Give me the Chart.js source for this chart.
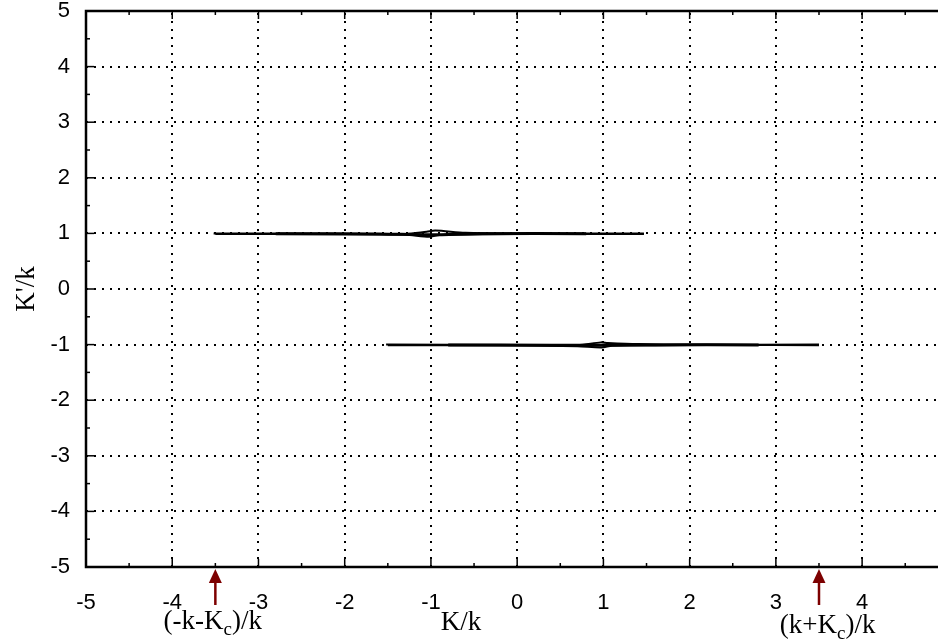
<!DOCTYPE html>
<html>
<head>
<meta charset="utf-8">
<script src="https://cdn.jsdelivr.net/npm/chart.js@4.4.1/dist/chart.umd.min.js"></script>
<style>
  html, body { margin: 0; padding: 0; background: #fff; }
  #wrap { width: 938px; height: 641px; }
</style>
</head>
<body>
<div id="wrap"><canvas id="chart" width="938" height="641"></canvas></div>
<script>
// tick values on both axes
const xTicks = [-5, -4, -3, -2, -1, 0, 1, 2, 3, 4];
const yTicks = [-5, -4, -3, -2, -1, 0, 1, 2, 3, 4, 5];

// contour traces near K'/k = +1
const upperOuter = [[-3.52, 1.0], [-2.0, 0.995], [-1.3, 0.99], [-1.05, 1.03], [-0.95, 1.05], [-0.6, 1.01], [0.0, 1.0], [1.47, 1.0]];
const upperInner = [[-3.5, 0.99], [-2.2, 0.985], [-1.3, 0.975], [-1.02, 0.94], [-0.9, 0.97], [-0.5, 0.985], [0.5, 0.99], [1.47, 0.99]];
const upperMid = [[-2.8, 0.995], [-1.6, 0.99], [-1.0, 0.975], [-0.4, 0.995], [0.8, 0.995]];

// contour traces near K'/k = -1
const lowerOuter = [[-1.52, -1.0], [0.0, -1.005], [0.7, -1.01], [0.97, -0.96], [1.05, -0.97], [1.4, -0.99], [2.0, -1.0], [3.5, -1.0]];
const lowerInner = [[-1.5, -1.01], [0.0, -1.015], [0.7, -1.03], [0.98, -1.05], [1.1, -1.02], [1.6, -1.01], [2.4, -1.005], [3.5, -1.01]];
const lowerMid = [[-0.8, -1.005], [0.4, -1.01], [1.0, -1.01], [1.6, -1.005], [2.8, -1.005]];

// arrows marking (-k-Kc)/k and (k+Kc)/k
const arrowX = [-3.5, 3.5];

const toPts = arr => arr.map(p => ({ x: p[0], y: p[1] }));

function traceSet(arr, width) {
    return {
        data: toPts(arr),
        showLine: true,
        borderColor: "#000",
        borderWidth: width,
        pointRadius: 0,
        tension: 0.3,
        fill: false
    };
}

// dotted grid, drawn under the data
const gridDots = {
    id: "gridDots",
    beforeDatasetsDraw(chart) {
        const { ctx, chartArea, scales } = chart;
        ctx.save();
        ctx.strokeStyle = "#000";
        ctx.lineWidth = 2;
        ctx.setLineDash([2, 6]);
        xTicks.forEach(v => {
            const px = Math.round(scales.x.getPixelForValue(v));
            if (px <= chartArea.left + 1) return;
            ctx.beginPath();
            ctx.moveTo(px, chartArea.bottom);
            ctx.lineTo(px, chartArea.top);
            ctx.stroke();
        });
        yTicks.forEach(v => {
            const py = Math.round(scales.y.getPixelForValue(v));
            if (py >= chartArea.bottom - 1 || py <= chartArea.top + 1) return;
            ctx.beginPath();
            ctx.moveTo(chartArea.left, py);
            ctx.lineTo(chartArea.right, py);
            ctx.stroke();
        });
        ctx.restore();
    }
};

const frame = {
    id: "frame",
    afterDraw(chart) {
        const { ctx, chartArea, scales } = chart;
        const xs = scales.x, ys = scales.y;
        ctx.save();
        ctx.strokeStyle = "#000";
        ctx.lineWidth = 2.5;
        // border: left, bottom, top
        ctx.beginPath();
        ctx.moveTo(chartArea.right, chartArea.top);
        ctx.lineTo(chartArea.left, chartArea.top);
        ctx.lineTo(chartArea.left, chartArea.bottom);
        ctx.lineTo(chartArea.right, chartArea.bottom);
        ctx.stroke();
        // inward tick marks
        ctx.lineWidth = 1.5;
        for (let v = -5; v <= 4.5; v += 0.5) {
            const px = xs.getPixelForValue(v);
            const len = Number.isInteger(v) ? 8 : 4;
            ctx.beginPath();
            ctx.moveTo(px, chartArea.bottom);
            ctx.lineTo(px, chartArea.bottom - len);
            ctx.moveTo(px, chartArea.top);
            ctx.lineTo(px, chartArea.top + len);
            ctx.stroke();
        }
        for (let v = -5; v <= 5; v += 0.5) {
            const py = ys.getPixelForValue(v);
            const len = Number.isInteger(v) ? 8 : 4;
            ctx.beginPath();
            ctx.moveTo(chartArea.left, py);
            ctx.lineTo(chartArea.left + len, py);
            ctx.stroke();
        }
        // arrows
        ctx.fillStyle = "#7d0000";
        ctx.strokeStyle = "#7d0000";
        arrowX.forEach(v => {
            const px = xs.getPixelForValue(v);
            const top = chartArea.bottom + 2;
            ctx.beginPath();
            ctx.moveTo(px, top);
            ctx.lineTo(px - 6.5, top + 14);
            ctx.lineTo(px + 6.5, top + 14);
            ctx.closePath();
            ctx.fill();
            ctx.lineWidth = 2.5;
            ctx.beginPath();
            ctx.moveTo(px, top + 12);
            ctx.lineTo(px, top + 36);
            ctx.stroke();
        });
        // serif labels
        ctx.fillStyle = "#000";
        ctx.textBaseline = "alphabetic";
        const big = "27px 'Liberation Serif'";
        const small = "19px 'Liberation Serif'";
        const drawSub = (x, y, parts) => {
            let w = 0;
            parts.forEach(p => {
                ctx.font = p[1] ? small : big;
                w += ctx.measureText(p[0]).width;
            });
            let cx = x - w / 2;
            parts.forEach(p => {
                ctx.font = p[1] ? small : big;
                ctx.textAlign = "left";
                ctx.fillText(p[0], cx, p[1] ? y + 6 : y);
                cx += ctx.measureText(p[0]).width;
            });
        };
        drawSub(xs.getPixelForValue(-3.53), 629, [["(-k-K", false], ["c", true], [")/k", false]]);
        drawSub(xs.getPixelForValue(3.6), 633, [["(k+K", false], ["c", true], [")/k", false]]);
        drawSub(xs.getPixelForValue(-0.65), 630, [["K/k", false]]);
        ctx.save();
        ctx.translate(34, 289);
        ctx.rotate(-Math.PI / 2);
        ctx.font = big;
        ctx.textAlign = "center";
        ctx.fillText("K'/k", 0, 0);
        ctx.restore();
        ctx.restore();
    }
};

function noPad(axis) {
    axis.paddingTop = 0;
    axis.paddingBottom = 0;
    axis.paddingLeft = 0;
    axis.paddingRight = 0;
}

new Chart(document.getElementById("chart").getContext("2d"), {
    type: "scatter",
    data: {
        datasets: [
            traceSet(upperOuter, 2),
            traceSet(upperInner, 2),
            traceSet(upperMid, 3),
            traceSet(lowerOuter, 2),
            traceSet(lowerInner, 2),
            traceSet(lowerMid, 3)
        ]
    },
    options: {
        responsive: false,
        animation: false,
        layout: { padding: { top: 11, right: 0, left: 0, bottom: 0 } },
        plugins: {
            legend: { display: false },
            tooltip: { enabled: false }
        },
        scales: {
            x: {
                type: "linear",
                min: -5,
                max: 4.88,
                afterBuildTicks: axis => { axis.ticks = xTicks.map(v => ({ value: v })); },
                afterFit: axis => { axis.height = 74; noPad(axis); },
                border: { display: false },
                grid: { display: false },
                ticks: {
                    color: "#000",
                    padding: 15,
                    font: { family: "'Liberation Sans', Arial", size: 22 }
                }
            },
            y: {
                type: "linear",
                min: -5,
                max: 5,
                afterBuildTicks: axis => { axis.ticks = yTicks.map(v => ({ value: v })); },
                afterFit: axis => { axis.width = 86; noPad(axis); },
                border: { display: false },
                grid: { display: false },
                ticks: {
                    color: "#000",
                    padding: 8,
                    font: { family: "'Liberation Sans', Arial", size: 22 }
                }
            }
        }
    },
    plugins: [gridDots, frame]
});
</script>
</body>
</html>
